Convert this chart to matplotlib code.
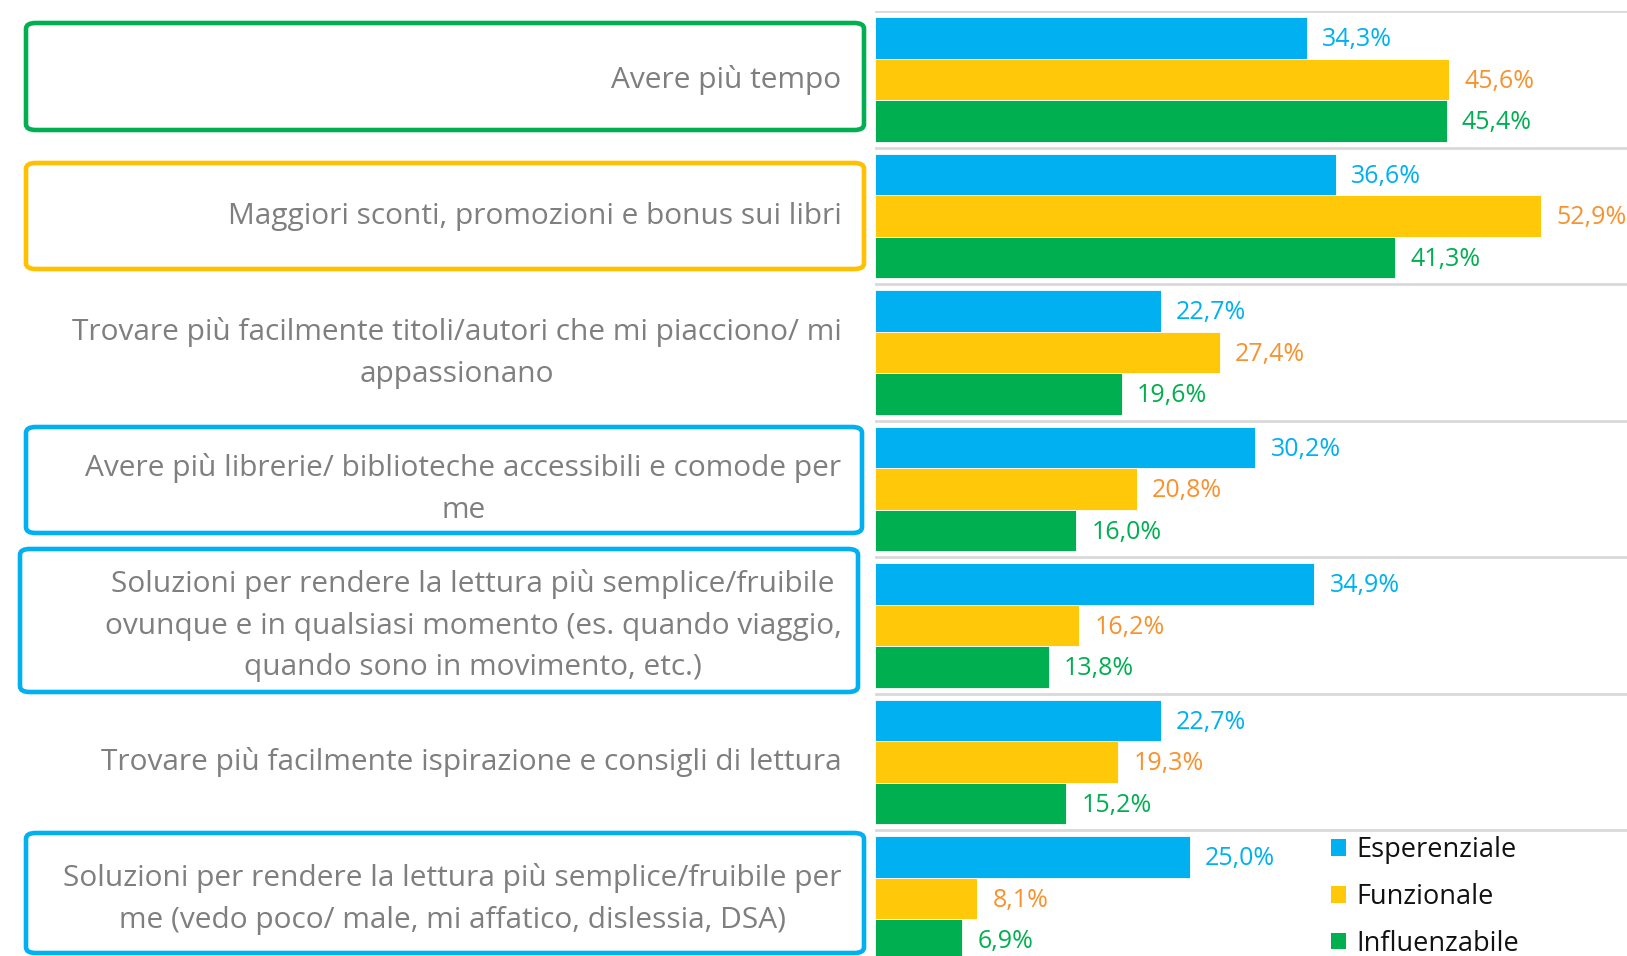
import matplotlib
matplotlib.use("Agg")
import matplotlib.pyplot as plt
import matplotlib.transforms as mtransforms
from matplotlib.patches import FancyBboxPatch, Patch
import numpy as np

plt.rcParams['font.family'] = ['Open Sans', 'DejaVu Sans']

categories = [
    "Avere più tempo",
    "Maggiori sconti, promozioni e bonus sui libri",
    "Trovare più facilmente titoli/autori che mi piacciono/ mi\nappassionano",
    "Avere più librerie/ biblioteche accessibili e comode per\nme",
    "Soluzioni per rendere la lettura più semplice/fruibile\novunque e in qualsiasi momento (es. quando viaggio,\nquando sono in movimento, etc.)",
    "Trovare più facilmente ispirazione e consigli di lettura",
    "Soluzioni per rendere la lettura più semplice/fruibile per\nme (vedo poco/ male, mi affatico, dislessia, DSA)",
]
series_names = ["Esperenziale", "Funzionale", "Influenzabile"]
esperenziale = [34.3, 36.6, 22.7, 30.2, 34.9, 22.7, 25.0]
funzionale = [45.6, 52.9, 27.4, 20.8, 16.2, 19.3, 8.1]
influenzabile = [45.4, 41.3, 19.6, 16.0, 13.8, 15.2, 6.9]

bar_colors = ["#00B0F0", "#FFC90A", "#00B050"]
label_colors = ["#00B0F0", "#F7922E", "#00B050"]

W, H = 1627, 956
fig = plt.figure(figsize=(W / 100, H / 100), dpi=100)

# axes geometry in pixels
ax_left, ax_top = 875, 11.4
unit = 136.5
ymax = -0.5 + (H - ax_top) / unit
ax = fig.add_axes([ax_left / W, 0, (W - ax_left) / W, (H - ax_top) / H])

y = np.arange(len(categories))
bh = 0.304
for k, (vals, col, lcol) in enumerate(zip([esperenziale, funzionale, influenzabile], bar_colors, label_colors)):
    yy = y + (k - 1) * bh
    bars = ax.barh(yy, vals, height=bh, color=col, edgecolor='white', linewidth=0.6, zorder=3)
    for b, v in zip(bars, vals):
        ax.annotate(f"{v:.1f}".replace('.', ',') + "%",
                    xy=(b.get_width(), b.get_y() + b.get_height() / 2),
                    xytext=(11, -1), textcoords='offset points',
                    va='center', ha='left', fontsize=18, color=lcol, zorder=4)

ax.set_yticks(np.arange(-0.5, len(categories), 1))
ax.set_yticklabels([])
ax.tick_params(left=False, bottom=False, labelbottom=False)
ax.set_xticks([])
ax.grid(axis='y', color='#D9D9D9', linewidth=2, zorder=0)
for s in ax.spines.values():
    s.set_visible(False)
ax.set_xlim(0, (W - ax_left) / 12.59)
ax.set_ylim(ymax, -0.5)

# category labels
trans = mtransforms.blended_transform_factory(fig.transFigure, ax.transData)
for i, c in enumerate(categories):
    ax.text(841.5 / W, i, c, transform=trans, ha='right', va='center',
            multialignment='center', fontsize=21.5, color='#7F7F7F',
            linespacing=1.58, clip_on=False)

# highlight boxes (pixel coords: x0, x1, y0, y1 from top, color)
boxes = [
    (26, 864, 23, 130, "#00B050"),
    (26, 864, 163, 269, "#FFC000"),
    (26, 862, 427, 533, "#00B0F0"),
    (20, 858, 549, 692, "#00B0F0"),
    (26, 864, 833, 953, "#00B0F0"),
]
for x0, x1, y0, y1, col in boxes:
    p = FancyBboxPatch((x0 / W, 1 - y1 / H), (x1 - x0) / W, (y1 - y0) / H,
                       boxstyle="round,pad=0,rounding_size=0.006",
                       transform=fig.transFigure, facecolor='none',
                       edgecolor=col, linewidth=3.3, zorder=5)
    fig.add_artist(p)

handles = [Patch(facecolor=c, edgecolor='none') for c in bar_colors]
fig.legend(handles, series_names, loc='upper left',
           bbox_to_anchor=(1331 / W, 1 - 836 / H), frameon=False,
           fontsize=19.5, handlelength=0.55, handleheight=0.55,
           handletextpad=0.4, labelspacing=0.7, borderpad=0, borderaxespad=0,
           labelcolor='#111111')

fig.savefig("out.png", dpi=100)
